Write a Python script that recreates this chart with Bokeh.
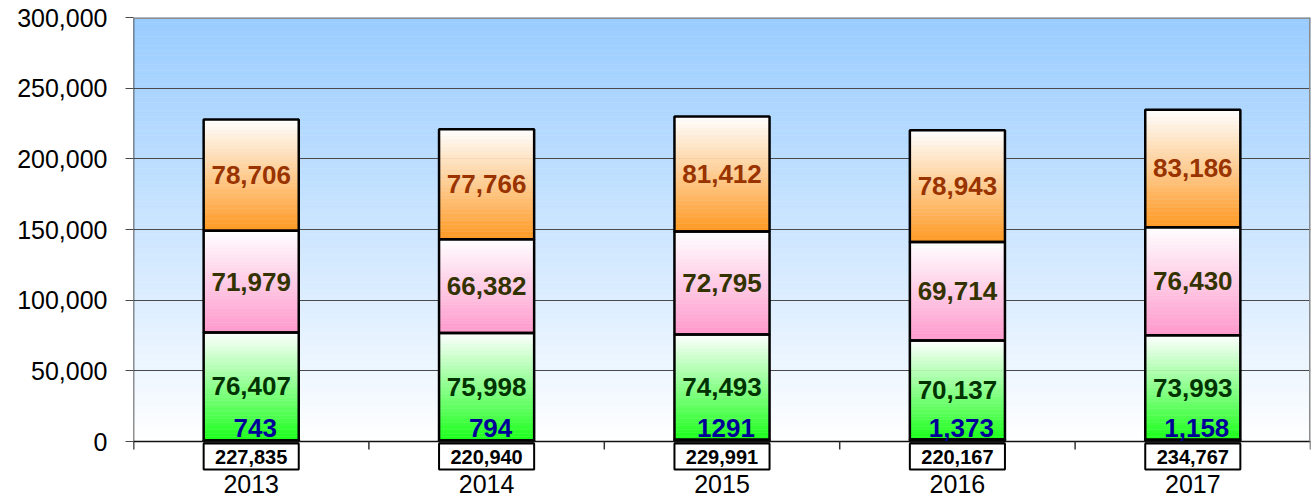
import numpy as np
from bokeh.plotting import figure
from bokeh.models import Range1d, FixedTicker, NumeralTickFormatter, ColumnDataSource
from bokeh.embed import file_html
from bokeh.resources import INLINE
from bokeh.core.properties import value

# ---------------- data ----------------
years = ["2013", "2014", "2015", "2016", "2017"]
small = [743, 794, 1291, 1373, 1158]
small_labels = ["743", "794", "1291", "1,373", "1,158"]
green = [76407, 75998, 74493, 70137, 73993]
pink = [71979, 66382, 72795, 69714, 76430]
orange = [78706, 77766, 81412, 78943, 83186]
totals = [227835, 220940, 229991, 220167, 234767]
y_ticks = [0, 50000, 100000, 150000, 200000, 250000, 300000]

# ---------------- layout ----------------
YMAX = 300000
FRAME_TOP_PX = 17
ZERO_PX = 441
DPP = YMAX / (ZERO_PX - FRAME_TOP_PX)  # data units per pixel
W, H = 1314, 499
y_start = -(H - ZERO_PX) * DPP
N = len(years)
BAR_W = 0.404
FONT = value("Liberation Sans")

p = figure(width=W, height=H, output_backend="svg", toolbar_location=None,
           x_range=Range1d(0, N), y_range=Range1d(y_start, YMAX),
           x_axis_location=None,
           min_border_left=133, min_border_right=4, min_border_top=FRAME_TOP_PX,
           min_border_bottom=0)
p.outline_line_color = None
p.background_fill_color = "white"
p.border_fill_color = "white"


def hex2rgb(h):
    h = h.lstrip("#")
    return np.array([int(h[i:i + 2], 16) for i in (0, 2, 4)], dtype=float)


def mix(c1, c2, t):
    c = hex2rgb(c1) * (1 - t) + hex2rgb(c2) * t
    return "#%02x%02x%02x" % tuple(int(round(v)) for v in c)


# background gradient (white at bottom -> light blue at top)
nb = 90
edges = np.linspace(0, YMAX, nb + 1)
bg = ColumnDataSource(dict(
    bottom=edges[:-1], top=edges[1:],
    color=[mix("#ffffff", "#99ccff", (edges[i] + edges[i + 1]) / 2 / YMAX) for i in range(nb)]))
r_bg = p.quad(left=0, right=N, bottom="bottom", top="top", fill_color="color",
              line_color="color", line_width=0.5, source=bg)
r_bg.level = "image"

# grid
p.xgrid.visible = False
p.ygrid.ticker = FixedTicker(ticks=y_ticks)
p.ygrid.grid_line_color = "#4a4a4a"
p.ygrid.grid_line_width = 1

# y axis
ax = p.yaxis[0]
ax.ticker = FixedTicker(ticks=y_ticks)
ax.formatter = NumeralTickFormatter(format="0,0")
ax.axis_line_color = None
ax.major_tick_out = 8
ax.major_tick_in = 0
ax.major_tick_line_color = "#4a4a4a"
ax.minor_tick_line_color = None
ax.major_label_text_font = "Liberation Sans"
ax.major_label_text_font_size = "25px"
ax.major_label_text_color = "black"
ax.major_label_standoff = 18

# stacked segments with vertical gradients
centers = [i + 0.5 for i in range(N)]
series = [(small, "#3333cc"), (green, "#1aff1a"), (pink, "#ff99cc"), (orange, "#ff9922")]
ns = 30
L, R, B, T, C = [], [], [], [], []
OL, OR_, OB, OT = [], [], [], []
bottoms = [0.0] * N
seg_bounds = []
for vals, col in series:
    bnds = []
    for i in range(N):
        b0 = bottoms[i]
        t0 = b0 + vals[i]
        bnds.append((b0, t0))
        e = np.linspace(b0, t0, ns + 1)
        for k in range(ns):
            frac = 1 - ((e[k] + e[k + 1]) / 2 - b0) / (t0 - b0)  # 1 at bottom, 0 at top
            L.append(centers[i] - BAR_W / 2)
            R.append(centers[i] + BAR_W / 2)
            B.append(e[k])
            T.append(e[k + 1])
            C.append(mix("#ffffff", col, frac))
        OL.append(centers[i] - BAR_W / 2)
        OR_.append(centers[i] + BAR_W / 2)
        OB.append(b0)
        OT.append(t0)
        bottoms[i] = t0
    seg_bounds.append(bnds)

p.quad(left=L, right=R, bottom=B, top=T, fill_color=C, line_color=C, line_width=0.5)
p.quad(left=OL, right=OR_, bottom=OB, top=OT, fill_color=None, line_color="black",
       line_width=2.5)

# frame lines
p.segment(x0=[0], y0=[-8 * DPP], x1=[0], y1=[YMAX], line_color="#222222", line_width=1.5)
p.segment(x0=[0], y0=[0], x1=[N], y1=[0], line_color="#111111", line_width=1.5)
p.segment(x0=list(range(N + 1)), y0=[0] * (N + 1), x1=list(range(N + 1)),
          y1=[-8 * DPP] * (N + 1), line_color="#333333", line_width=1.5)
p.segment(x0=[0], y0=[YMAX], x1=[N], y1=[YMAX], line_color="#8c8c8c", line_width=3)
p.segment(x0=[N], y0=[0], x1=[N], y1=[YMAX], line_color="#8c8c8c", line_width=3)

# segment labels
label_specs = [(green, 1, "#003300"), (pink, 2, "#333300"), (orange, 3, "#993300")]
for vals, si, col in label_specs:
    mids = [(b + t) / 2 for b, t in seg_bounds[si]]
    p.text(x=centers, y=mids, text=[f"{v:,}" for v in vals], text_font=FONT,
           text_font_style="bold", text_font_size="26px", text_align="center",
           text_baseline="middle", text_color=col)

p.text(x=centers, y=[14 * DPP] * N, text=small_labels, x_offset=4, text_font=FONT,
       text_font_style="bold", text_font_size="26px", text_align="center",
       text_baseline="middle", text_color="#000099")

# total boxes below axis
p.quad(left=[c - BAR_W / 2 for c in centers], right=[c + BAR_W / 2 for c in centers],
       bottom=[-28 * DPP] * N, top=[-2 * DPP] * N, fill_color="white",
       line_color="black", line_width=2)
p.text(x=centers, y=[-15 * DPP] * N, text=[f"{v:,}" for v in totals], text_font=FONT,
       text_font_style="bold", text_font_size="20px", text_align="center",
       text_baseline="middle", text_color="black")

# year labels
p.text(x=centers, y=[-42.5 * DPP] * N, text=years, text_font=FONT,
       text_font_size="25px", text_align="center", text_baseline="middle",
       text_color="black")

open("out.html", "w").write(file_html(p, INLINE))
